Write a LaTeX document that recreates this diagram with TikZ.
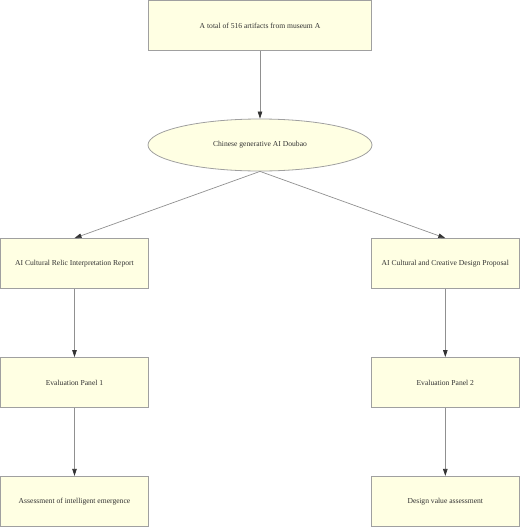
\documentclass[tikz,border=0pt]{standalone}
\usepackage{fontspec}
\setmainfont{Liberation Serif}
\usetikzlibrary{arrows.meta,shapes.geometric}
\definecolor{boxfill}{HTML}{FFFFE3}
\definecolor{boxline}{HTML}{A0A0A0}
\definecolor{txt}{HTML}{333333}
\definecolor{edgeline}{HTML}{909090}
\begin{document}
\begin{tikzpicture}[x=1pt,y=-1pt,
  box/.style={draw=boxline,fill=boxfill,line width=0.8pt,minimum width=148pt,minimum height=50pt,inner sep=0pt,font=\fontsize{7.6}{9}\selectfont,text=txt},
  ell/.style={ellipse,draw=boxline,fill=boxfill,line width=0.8pt,minimum width=224pt,minimum height=52pt,inner sep=0pt,font=\fontsize{7.6}{9}\selectfont,text=txt},
  conn/.style={draw=edgeline,line width=0.7pt,-{Triangle[length=7pt,width=4.5pt,fill=black!80,color=black!80]}}]
\useasboundingbox (0,0) rectangle (520,527);
\node[box,minimum width=223pt] (top) at (260,25.5) {A total of 516 artifacts from museum A};
\node[ell] (ai) at (260,145) {Chinese generative AI Doubao};
\node[box] (l1) at (74.5,263.5) {AI Cultural Relic Interpretation Report};
\node[box] (r1) at (445.3,263.5) {AI Cultural and Creative Design Proposal};
\node[box] (l2) at (74.5,382.5) {Evaluation Panel 1};
\node[box] (r2) at (445.3,382.5) {Evaluation Panel 2};
\node[box] (l3) at (74.5,501.3) {Assessment of intelligent emergence};
\node[box] (r3) at (445.3,501.3) {Design value assessment};
\draw[conn] (top) -- (ai);
\draw[conn] (ai.south) -- (l1.north);
\draw[conn] (ai.south) -- (r1.north);
\draw[conn] (l1) -- (l2);
\draw[conn] (r1) -- (r2);
\draw[conn] (l2) -- (l3);
\draw[conn] (r2) -- (r3);
\end{tikzpicture}
\end{document}
